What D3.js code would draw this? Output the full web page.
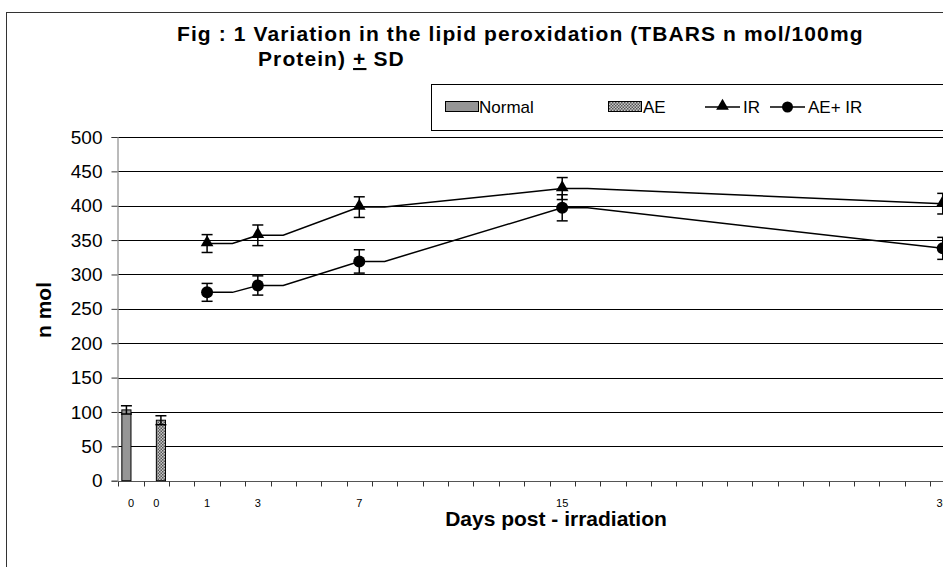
<!DOCTYPE html>
<html>
<head>
<meta charset="utf-8">
<script src="https://cdn.jsdelivr.net/npm/d3@7"></script>
<style>
  body { margin: 0; background: #fff; }
  svg { display: block; font-family: "Liberation Sans", Arial, sans-serif; }
  .grid line { stroke: #000; stroke-width: 1; }
</style>
</head>
<body>
<svg id="chart" width="943" height="567"></svg>
<script>
// category slots on the x axis (Excel category axis, one slot per day + 2 bar slots)
const categories = d3.range(33);
const catLabels = ["0", "0", "", "1", "", "3", "", "", "", "7", "", "", "", "", "", "", "", "15",
  "", "", "", "", "", "", "", "", "", "", "", "", "", "", "30"];

// bars: Normal and AE (day 0)
const barSeries = ["Normal", "AE"];
const barCats = [0, 1];
const barValues = [103, 88];
const barSD = [6, 6.5];

// lines: IR and AE+IR
const lineCats = [3, 5, 9, 17, 32];
const irValues = [345, 357, 398, 425, 403];
const irSD = [13, 15, 15, 16, 15];
const aeirValues = [274, 284, 319, 397, 338];
const aeirSD = [13, 14, 17, 19, 16];

const yTicks = d3.range(0, 501, 50);

const svg = d3.select("#chart");

const margin = { top: 137, left: 118.3, bottom: 480.7, right: 955.4 };

const xScale = d3.scaleBand()
  .domain(categories)
  .range([margin.left, margin.right])
  .padding(0);

const yScale = d3.scaleLinear()
  .domain([0, 500])
  .range([margin.bottom, margin.top]);

const bw = xScale.bandwidth();
const xc = (c) => xScale(c) + bw / 2;

// pattern for AE bars
const defs = svg.append("defs");
const pat = defs.append("pattern")
  .attr("id", "hatch")
  .attr("patternUnits", "userSpaceOnUse")
  .attr("width", 3)
  .attr("height", 3);
pat.append("rect").attr("width", 3).attr("height", 3).attr("fill", "#c8c8c8");
pat.append("rect").attr("width", 1.5).attr("height", 1.5).attr("fill", "#555");
pat.append("rect").attr("x", 1.5).attr("y", 1.5).attr("width", 1.5).attr("height", 1.5).attr("fill", "#555");

// outer chart frame
svg.append("rect")
  .attr("x", 6.5).attr("y", 12.5)
  .attr("width", 1000).attr("height", 1000)
  .attr("fill", "none").attr("stroke", "#333");

// gridlines
svg.append("g")
  .attr("class", "grid")
  .selectAll("line")
  .data(yTicks.filter((d) => d > 0))
  .enter()
  .append("line")
  .attr("x1", margin.left)
  .attr("x2", margin.right)
  .attr("y1", (d) => Math.round(yScale(d)) + 0.5)
  .attr("y2", (d) => Math.round(yScale(d)) + 0.5);

// y axis
const yAxisG = svg.append("g")
  .attr("transform", `translate(${Math.round(margin.left) - 0.5},0)`)
  .call(d3.axisLeft(yScale).tickValues(yTicks).tickSize(6).tickPadding(9).tickFormat(d3.format("d")));
yAxisG.select(".domain").attr("stroke", "#777");
yAxisG.selectAll(".tick line").attr("stroke", "#333");
yAxisG.selectAll("text").attr("font-size", 19).attr("fill", "#000").attr("font-family", "Liberation Sans, Arial");

// x axis: ticks at category boundaries
const xAxisG = svg.append("g")
  .attr("transform", `translate(0,${Math.round(margin.bottom) + 0.5})`);
xAxisG.append("line")
  .attr("x1", margin.left).attr("x2", margin.right)
  .attr("stroke", "#555");
xAxisG.selectAll(".xtick")
  .data(categories)
  .enter()
  .append("line")
  .attr("x1", (d) => Math.round(xScale(d)) + 0.5)
  .attr("x2", (d) => Math.round(xScale(d)) + 0.5)
  .attr("y2", 5)
  .attr("stroke", "#333");
xAxisG.selectAll(".xlabel")
  .data(categories)
  .enter()
  .append("text")
  .attr("x", (d) => xc(d))
  .attr("y", 25)
  .attr("text-anchor", "middle")
  .attr("font-size", 11)
  .text((d) => catLabels[d]);

// bars (clustered: Normal left slot, AE right slot)
const barW = bw * 0.36;
const barX = (i) => xc(barCats[i]) + (i === 0 ? -barW : 0);
svg.append("g")
  .selectAll("rect")
  .data(barValues)
  .enter()
  .append("rect")
  .attr("x", (d, i) => barX(i))
  .attr("y", (d) => yScale(d))
  .attr("width", barW)
  .attr("height", (d) => yScale(0) - yScale(d))
  .attr("fill", (d, i) => (i === 0 ? "#969696" : "url(#hatch)"))
  .attr("stroke", "#000")
  .attr("stroke-width", 1);

// error bars helper
function errorBars(g, xs, vals, sds) {
  const cap = 5.5;
  vals.forEach((v, i) => {
    const x = xs[i];
    const y1 = yScale(v + sds[i]);
    const y2 = yScale(v - sds[i]);
    g.append("line").attr("x1", x).attr("x2", x).attr("y1", y1).attr("y2", y2);
    g.append("line").attr("x1", x - cap).attr("x2", x + cap).attr("y1", y1).attr("y2", y1);
    g.append("line").attr("x1", x - cap).attr("x2", x + cap).attr("y1", y2).attr("y2", y2);
  });
}

const errG = svg.append("g").attr("stroke", "#000").attr("stroke-width", 1.5);
errorBars(errG, barValues.map((d, i) => barX(i) + barW / 2), barValues, barSD);

// line series: each value is held flat for one category, then joins the next point
function stepPoints(cats, vals) {
  const pts = [];
  cats.forEach((c, i) => {
    pts.push([c, vals[i]]);
    if (i < cats.length - 1) pts.push([c + 1, vals[i]]);
  });
  return pts;
}

const lineGen = d3.line()
  .x((d) => xc(d[0]))
  .y((d) => yScale(d[1]));

[irValues, aeirValues].forEach((vals) => {
  svg.append("path")
    .attr("d", lineGen(stepPoints(lineCats, vals)))
    .attr("fill", "none")
    .attr("stroke", "#000")
    .attr("stroke-width", 1.5);
});

errorBars(errG, lineCats.map(xc), irValues, irSD);
errorBars(errG, lineCats.map(xc), aeirValues, aeirSD);

const triangle = d3.symbol().type(d3.symbolTriangle).size(70);

svg.append("g")
  .selectAll("path")
  .data(irValues)
  .enter()
  .append("path")
  .attr("d", triangle)
  .attr("transform", (d, i) => `translate(${xc(lineCats[i])},${yScale(d) - 1})`)
  .attr("fill", "#000");

svg.append("g")
  .selectAll("circle")
  .data(aeirValues)
  .enter()
  .append("circle")
  .attr("cx", (d, i) => xc(lineCats[i]))
  .attr("cy", (d) => yScale(d))
  .attr("r", 6)
  .attr("fill", "#000");

// titles
const title = svg.append("text")
  .attr("font-weight", "bold")
  .attr("font-size", 21)
  .attr("letter-spacing", 1.1);
title.append("tspan").attr("x", 177).attr("y", 41)
  .text("Fig : 1 Variation in the lipid peroxidation (TBARS n mol/100mg");
const t2 = title.append("tspan").attr("x", 258).attr("y", 66);
t2.append("tspan").text("Protein) ");
t2.append("tspan").attr("text-decoration", "underline").text("+");
t2.append("tspan").text(" SD");

svg.append("text")
  .attr("transform", "translate(51,310) rotate(-90)")
  .attr("text-anchor", "middle")
  .attr("font-weight", "bold")
  .attr("font-size", 21)
  .text("n mol");

svg.append("text")
  .attr("x", 556)
  .attr("y", 526)
  .attr("text-anchor", "middle")
  .attr("font-weight", "bold")
  .attr("font-size", 21)
  .text("Days post - irradiation");

// legend
const legend = svg.append("g");
legend.append("rect")
  .attr("x", 431.5).attr("y", 84.5)
  .attr("width", 600).attr("height", 46)
  .attr("fill", "#fff").attr("stroke", "#000");

const legY = 107;
legend.append("rect").attr("x", 445.5).attr("y", legY - 5.5).attr("width", 33).attr("height", 10)
  .attr("fill", "#969696").attr("stroke", "#000");
legend.append("text").attr("x", 479).attr("y", legY + 6).attr("font-size", 17).text(barSeries[0]);

legend.append("rect").attr("x", 608.5).attr("y", legY - 5.5).attr("width", 33).attr("height", 10)
  .attr("fill", "url(#hatch)").attr("stroke", "#000");
legend.append("text").attr("x", 643).attr("y", legY + 6).attr("font-size", 17).text(barSeries[1]);

legend.append("line").attr("x1", 705).attr("x2", 740).attr("y1", legY).attr("y2", legY)
  .attr("stroke", "#000").attr("stroke-width", 1.5);
legend.append("path").attr("d", triangle)
  .attr("transform", `translate(722.5,${legY - 1})`).attr("fill", "#000");
legend.append("text").attr("x", 743).attr("y", legY + 6).attr("font-size", 17).text("IR");

legend.append("line").attr("x1", 770).attr("x2", 805).attr("y1", legY).attr("y2", legY)
  .attr("stroke", "#000").attr("stroke-width", 1.5);
legend.append("circle").attr("cx", 787.5).attr("cy", legY).attr("r", 5.5).attr("fill", "#000");
legend.append("text").attr("x", 808).attr("y", legY + 6).attr("font-size", 17).text("AE+ IR");
</script>
</body>
</html>
